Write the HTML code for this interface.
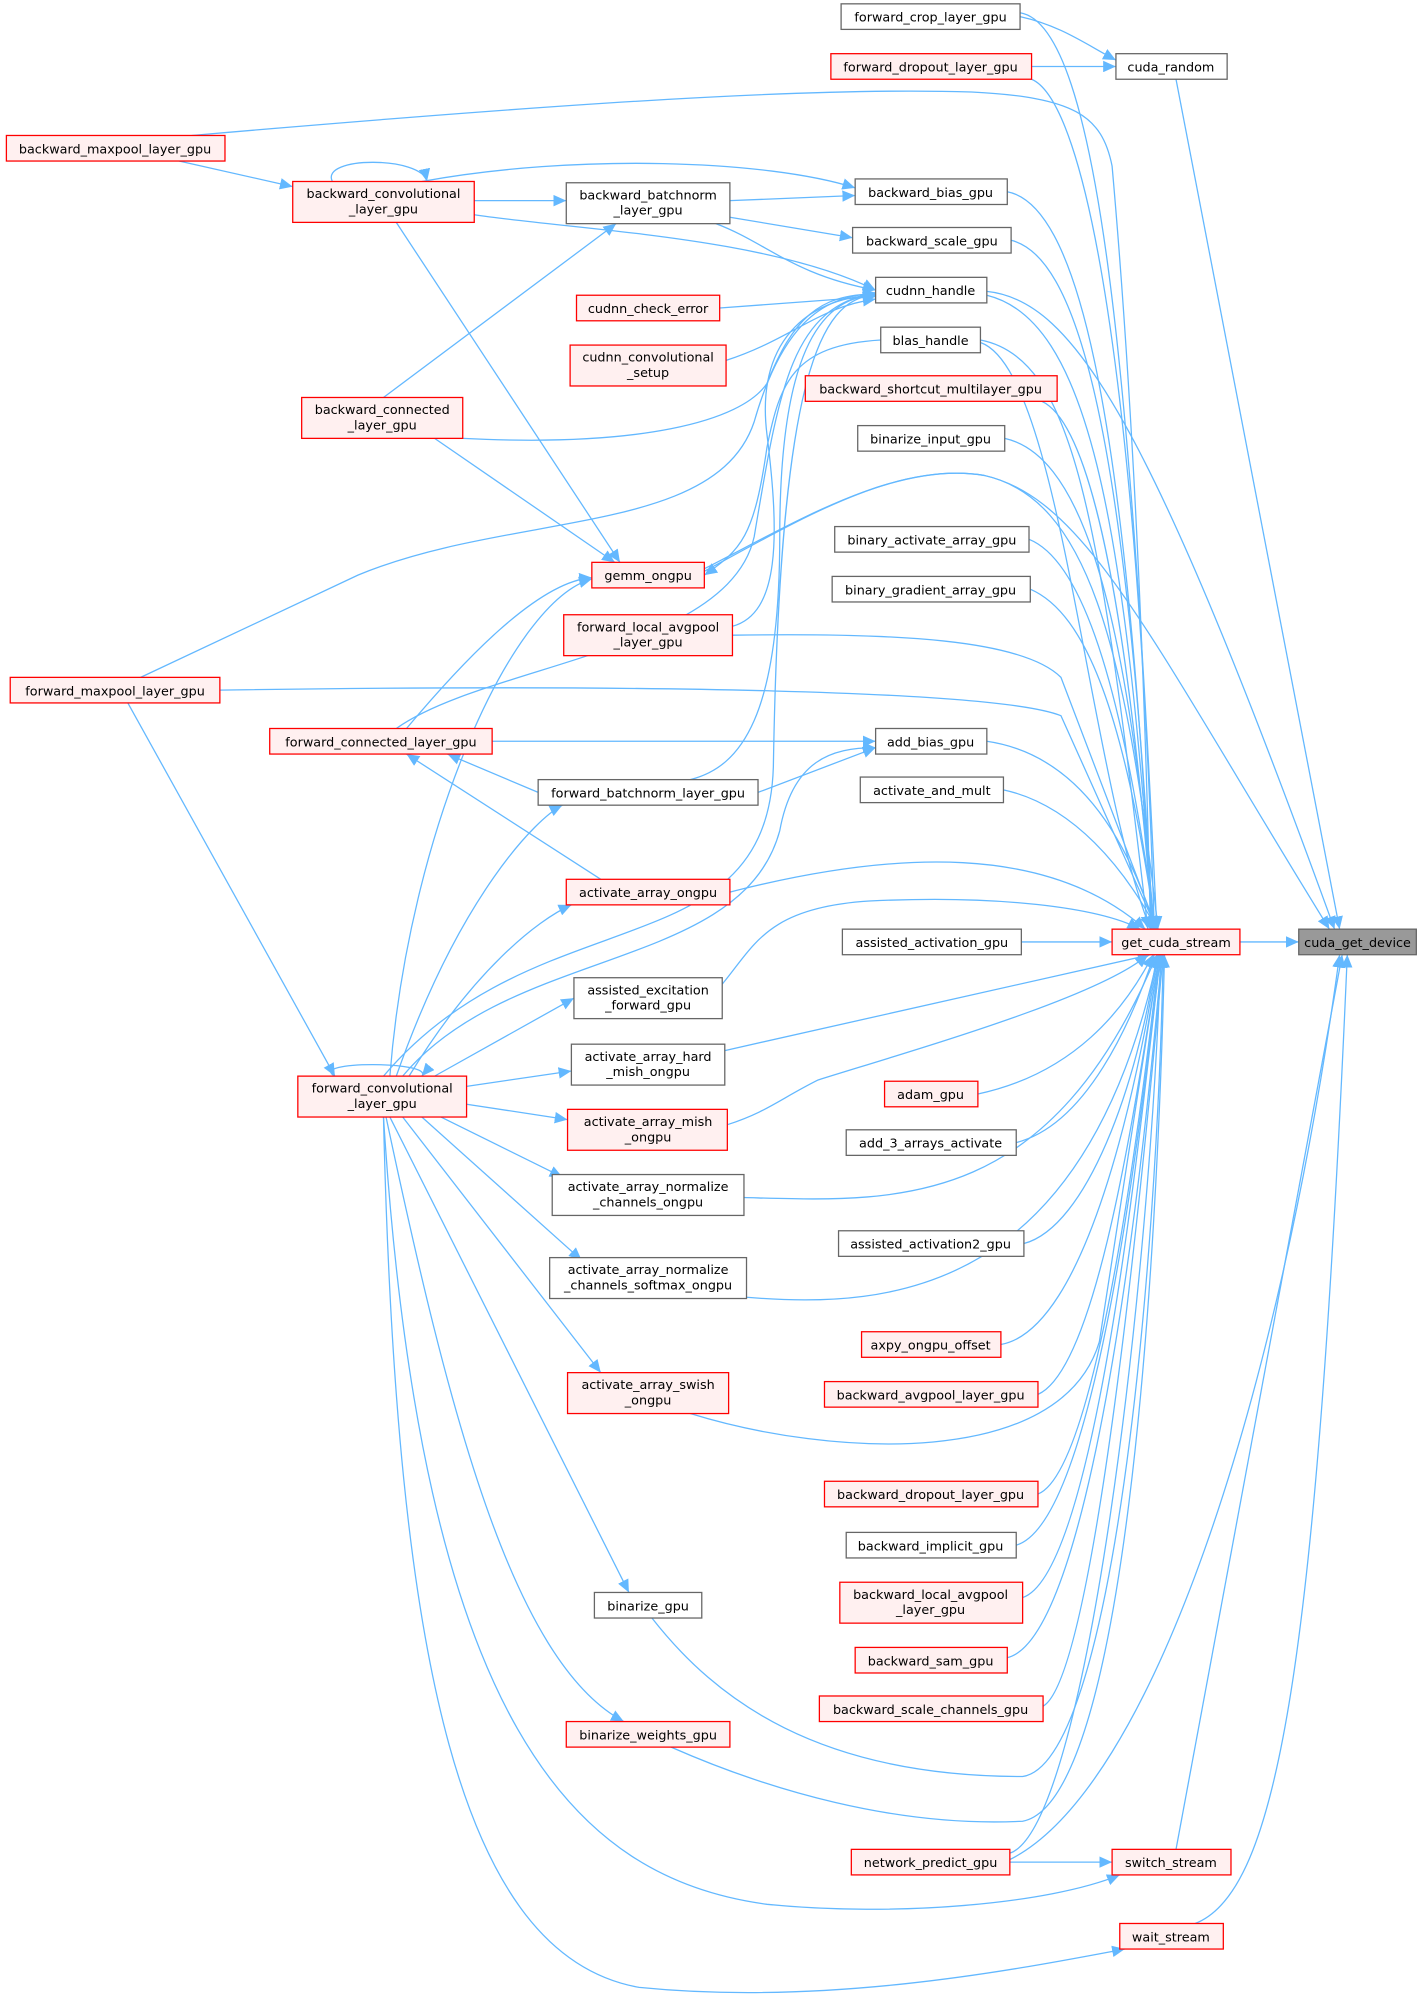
<!DOCTYPE html>
<html><head><meta charset="utf-8"><style>
html,body{margin:0;padding:0;background:#fff;}
svg{display:block;}
text{font-family:"DejaVu Sans","Liberation Sans",sans-serif;font-size:10px;fill:#000;text-anchor:middle;}
.e{fill:none;stroke:#63b8ff;stroke-width:1;}
.r{fill:#fff0f0;stroke:#ff0000;stroke-width:1;}
.g{fill:#fff;stroke:#666;stroke-width:1;}
</style></head><body>
<svg width="1424" height="2004" viewBox="0 0 1114 1568" preserveAspectRatio="none" xmlns="http://www.w3.org/2000/svg">
<defs><marker id="a" markerUnits="userSpaceOnUse" markerWidth="11" markerHeight="9" refX="10" refY="4.5" orient="auto"><path d="M0,0 L10,4.5 L0,9 z" fill="#63b8ff"/></marker></defs>
<g marker-end="url(#a)">
<path class="e" d="M798,13 C830,20 850,35 873,47"/>
<path class="e" d="M807,52 L873,52"/>
<path class="e" d="M798,10 C860,20 885,300 905,727"/>
<path class="e" d="M807,62 C850,80 890,300 903,727"/>
<path class="e" d="M920,62 L1048,727"/>
<path class="e" d="M150,106 C450,80 640,68 760,72 C840,76 862,90 870,130 C885,300 895,500 900,727"/>
<path class="e" d="M788,150 C840,160 880,300 901,727"/>
<path class="e" d="M791,188 C840,200 880,320 902,727"/>
<path class="e" d="M772,228 C840,235 900,330 1044,727"/>
<path class="e" d="M772,231 C850,250 880,400 902,727"/>
<path class="e" d="M767,266 C840,280 860,400 898,727"/>
<path class="e" d="M767,268 C830,290 850,600 900,727"/>
<path class="e" d="M551,445 C620,410 700,360 770,372 C850,390 900,500 1040,727"/>
<path class="e" d="M551,447 C620,410 700,360 770,372 C850,390 880,500 906,727"/>
<path class="e" d="M815,314 C850,330 880,450 902,727"/>
<path class="e" d="M786,343 C840,355 880,450 903,727"/>
<path class="e" d="M805,422 C850,440 880,550 904,727"/>
<path class="e" d="M806,461 C850,480 880,560 904,727"/>
<path class="e" d="M573,497 C700,495 800,500 830,530 L905,727"/>
<path class="e" d="M172,540 C500,535 780,540 830,560 L905,727"/>
<path class="e" d="M772,580 C840,590 880,650 904,727"/>
<path class="e" d="M785,618 C840,630 880,680 905,727"/>
<path class="e" d="M571,698 C700,665 820,660 896,727"/>
<path class="e" d="M565,770 C590,740 600,710 680,705 C780,700 860,710 892,727"/>
<path class="e" d="M799,737 L870,737"/>
<path class="e" d="M567,822 L900,747"/>
<path class="e" d="M569,880 C600,870 610,860 640,845 C720,820 860,780 898,747"/>
<path class="e" d="M765,856 C840,840 880,790 902,747"/>
<path class="e" d="M795,894 C850,880 885,800 903,747"/>
<path class="e" d="M582,937 C700,940 820,950 905,747"/>
<path class="e" d="M801,973 C850,960 890,850 905,747"/>
<path class="e" d="M584,1015 C700,1025 850,1010 906,747"/>
<path class="e" d="M783,1052 C850,1040 890,850 906,747"/>
<path class="e" d="M812,1091 C860,1070 890,850 907,747"/>
<path class="e" d="M540,1106 C650,1140 830,1150 860,1050 L907,747"/>
<path class="e" d="M812,1169 C860,1150 895,850 907,747"/>
<path class="e" d="M795,1209 C860,1190 895,850 908,747"/>
<path class="e" d="M800,1250 C860,1230 895,850 908,747"/>
<path class="e" d="M788,1297 C860,1280 900,850 909,747"/>
<path class="e" d="M816,1335 C860,1310 900,850 910,747"/>
<path class="e" d="M510,1266 C560,1330 640,1390 800,1390 C870,1380 905,1000 910,747"/>
<path class="e" d="M525,1367 C600,1400 700,1430 800,1425 C880,1410 905,1000 911,747"/>
<path class="e" d="M790,1450 C850,1430 900,1000 908,747"/>
<path class="e" d="M790,1455 C900,1400 1000,1100 1048,747"/>
<path class="e" d="M790,1457 L870,1457"/>
<path class="e" d="M920,1447 L1050,747"/>
<path class="e" d="M935,1505 C1000,1480 1030,1300 1054,747"/>
<path class="e" d="M970,737 L1016,737"/>
<path class="e" d="M300,874 C330,1350 450,1470 600,1490 C700,1500 820,1490 876,1467"/>
<path class="e" d="M300,874 C310,1300 360,1530 500,1555 C650,1570 800,1540 880,1525"/>
<path class="e" d="M140,126 L229,146"/>
<path class="e" d="M260,142 C250,122 330,122 334,142"/>
<path class="e" d="M371,157 L443,157"/>
<path class="e" d="M330,142 C450,120 600,125 669,147"/>
<path class="e" d="M371,168 C450,180 600,185 685,227"/>
<path class="e" d="M310,174 L485,440"/>
<path class="e" d="M300,311 L482,175"/>
<path class="e" d="M571,157 L669,153"/>
<path class="e" d="M571,170 L667,186"/>
<path class="e" d="M560,175 C600,190 620,215 685,227"/>
<path class="e" d="M563,241 L685,232"/>
<path class="e" d="M568,282 C620,265 640,240 685,234"/>
<path class="e" d="M362,343 C500,350 580,330 600,300 C620,250 640,230 685,230"/>
<path class="e" d="M340,343 L481,440"/>
<path class="e" d="M110,530 L280,450 C400,400 560,420 590,330 C610,260 640,230 685,230"/>
<path class="e" d="M318,570 C360,520 420,455 463,452"/>
<path class="e" d="M310,570 C380,520 570,510 590,420 C610,300 620,240 685,229"/>
<path class="e" d="M385,580 L685,580"/>
<path class="e" d="M573,490 C610,480 610,420 600,340 C590,260 640,232 685,231"/>
<path class="e" d="M689,266 C620,270 610,300 600,350 C590,420 580,430 551,450"/>
<path class="e" d="M421,620 L350,590"/>
<path class="e" d="M470,688 L318,590"/>
<path class="e" d="M593,620 L685,585"/>
<path class="e" d="M540,610 C580,600 610,560 610,420 C610,280 640,232 685,231"/>
<path class="e" d="M100,550 L262,842"/>
<path class="e" d="M262,842 C240,830 340,830 330,842"/>
<path class="e" d="M305,842 C320,650 400,470 463,453"/>
<path class="e" d="M300,842 C420,700 600,760 605,600 C610,300 640,232 685,231"/>
<path class="e" d="M310,842 C360,700 420,640 440,630"/>
<path class="e" d="M315,842 C400,740 580,760 610,650 C620,595 650,585 685,585"/>
<path class="e" d="M320,842 C370,760 420,720 447,708"/>
<path class="e" d="M340,842 L449,781"/>
<path class="e" d="M365,850 L447,838"/>
<path class="e" d="M365,864 L444,876"/>
<path class="e" d="M345,874 L440,921"/>
<path class="e" d="M330,874 L455,986"/>
<path class="e" d="M315,874 L470,1074"/>
<path class="e" d="M305,874 L492,1246"/>
<path class="e" d="M302,874 C350,1100 400,1300 488,1347"/>
</g>
<rect class="g" x="1016" y="727" width="92" height="20" style="fill:#999"/><text x="1062" y="741">cuda_get_device</text>
<rect class="r" x="870" y="727" width="100" height="20"/><text x="920" y="741">get_cuda_stream</text>
<rect class="g" x="873" y="42" width="87" height="20"/><text x="916" y="56">cuda_random</text>
<rect class="r" x="870" y="1447" width="93" height="20"/><text x="916" y="1461">switch_stream</text>
<rect class="r" x="876" y="1505" width="81" height="20"/><text x="916" y="1519">wait_stream</text>
<rect class="g" x="658" y="3" width="140" height="20"/><text x="728" y="17">forward_crop_layer_gpu</text>
<rect class="r" x="650" y="42" width="157" height="20"/><text x="728" y="56">forward_dropout_layer_gpu</text>
<rect class="g" x="669" y="140" width="119" height="20"/><text x="728" y="154">backward_bias_gpu</text>
<rect class="g" x="667" y="178" width="124" height="20"/><text x="729" y="192">backward_scale_gpu</text>
<rect class="g" x="685" y="217" width="87" height="20"/><text x="728" y="231">cudnn_handle</text>
<rect class="g" x="689" y="256" width="78" height="20"/><text x="728" y="270">blas_handle</text>
<rect class="r" x="630" y="294" width="197" height="20"/><text x="728" y="308">backward_shortcut_multilayer_gpu</text>
<rect class="g" x="671" y="333" width="115" height="20"/><text x="728" y="347">binarize_input_gpu</text>
<rect class="g" x="653" y="412" width="152" height="20"/><text x="729" y="426">binary_activate_array_gpu</text>
<rect class="g" x="651" y="451" width="155" height="20"/><text x="728" y="465">binary_gradient_array_gpu</text>
<rect class="g" x="685" y="570" width="87" height="20"/><text x="728" y="584">add_bias_gpu</text>
<rect class="g" x="673" y="608" width="112" height="20"/><text x="729" y="622">activate_and_mult</text>
<rect class="g" x="659" y="727" width="140" height="20"/><text x="729" y="741">assisted_activation_gpu</text>
<rect class="r" x="692" y="846" width="73" height="20"/><text x="728" y="860">adam_gpu</text>
<rect class="g" x="662" y="884" width="133" height="20"/><text x="728" y="898">add_3_arrays_activate</text>
<rect class="g" x="656" y="963" width="145" height="20"/><text x="728" y="977">assisted_activation2_gpu</text>
<rect class="r" x="674" y="1042" width="109" height="20"/><text x="728" y="1056">axpy_ongpu_offset</text>
<rect class="r" x="645" y="1081" width="167" height="20"/><text x="728" y="1095">backward_avgpool_layer_gpu</text>
<rect class="r" x="645" y="1159" width="167" height="20"/><text x="728" y="1173">backward_dropout_layer_gpu</text>
<rect class="g" x="662" y="1199" width="133" height="20"/><text x="728" y="1213">backward_implicit_gpu</text>
<rect class="r" x="657" y="1238" width="143" height="32"/><text x="728" y="1251">backward_local_avgpool</text><text x="728" y="1263">_layer_gpu</text>
<rect class="r" x="669" y="1289" width="119" height="20"/><text x="728" y="1303">backward_sam_gpu</text>
<rect class="r" x="641" y="1327" width="175" height="20"/><text x="728" y="1341">backward_scale_channels_gpu</text>
<rect class="r" x="666" y="1447" width="124" height="20"/><text x="728" y="1461">network_predict_gpu</text>
<rect class="g" x="443" y="143" width="128" height="32"/><text x="507" y="156">backward_batchnorm</text><text x="507" y="168">_layer_gpu</text>
<rect class="r" x="451" y="231" width="112" height="20"/><text x="507" y="245">cudnn_check_error</text>
<rect class="r" x="446" y="270" width="122" height="32"/><text x="507" y="283">cudnn_convolutional</text><text x="507" y="295">_setup</text>
<rect class="r" x="463" y="440" width="88" height="20"/><text x="507" y="454">gemm_ongpu</text>
<rect class="r" x="441" y="481" width="132" height="32"/><text x="507" y="494">forward_local_avgpool</text><text x="507" y="506">_layer_gpu</text>
<rect class="g" x="421" y="610" width="172" height="20"/><text x="507" y="624">forward_batchnorm_layer_gpu</text>
<rect class="r" x="443" y="688" width="128" height="20"/><text x="507" y="702">activate_array_ongpu</text>
<rect class="g" x="449" y="765" width="116" height="32"/><text x="507" y="778">assisted_excitation</text><text x="507" y="790">_forward_gpu</text>
<rect class="g" x="447" y="817" width="120" height="32"/><text x="507" y="830">activate_array_hard</text><text x="507" y="842">_mish_ongpu</text>
<rect class="r" x="444" y="868" width="125" height="32"/><text x="507" y="881">activate_array_mish</text><text x="507" y="893">_ongpu</text>
<rect class="g" x="432" y="919" width="150" height="32"/><text x="507" y="932">activate_array_normalize</text><text x="507" y="944">_channels_ongpu</text>
<rect class="g" x="430" y="984" width="154" height="32"/><text x="507" y="997">activate_array_normalize</text><text x="507" y="1009">_channels_softmax_ongpu</text>
<rect class="r" x="444" y="1074" width="126" height="32"/><text x="507" y="1087">activate_array_swish</text><text x="507" y="1099">_ongpu</text>
<rect class="g" x="465" y="1246" width="84" height="20"/><text x="507" y="1260">binarize_gpu</text>
<rect class="r" x="443" y="1347" width="128" height="20"/><text x="507" y="1361">binarize_weights_gpu</text>
<rect class="r" x="5" y="106" width="171" height="20"/><text x="90" y="120">backward_maxpool_layer_gpu</text>
<rect class="r" x="229" y="142" width="142" height="32"/><text x="300" y="155">backward_convolutional</text><text x="300" y="167">_layer_gpu</text>
<rect class="r" x="236" y="311" width="126" height="32"/><text x="299" y="324">backward_connected</text><text x="299" y="336">_layer_gpu</text>
<rect class="r" x="8" y="530" width="164" height="20"/><text x="90" y="544">forward_maxpool_layer_gpu</text>
<rect class="r" x="211" y="570" width="174" height="20"/><text x="298" y="584">forward_connected_layer_gpu</text>
<rect class="r" x="233" y="842" width="132" height="32"/><text x="299" y="855">forward_convolutional</text><text x="299" y="867">_layer_gpu</text>
</svg>
</body></html>
